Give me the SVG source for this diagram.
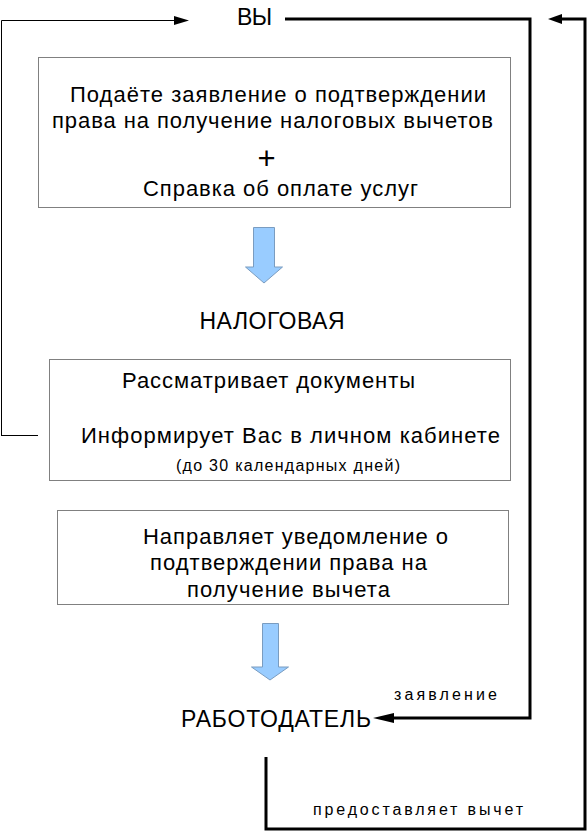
<svg xmlns="http://www.w3.org/2000/svg" width="588" height="833" viewBox="0 0 588 833">
<style>
text{font-family:"Liberation Sans",Arial,sans-serif;fill:#000;text-anchor:middle}
.t{font-size:22px}
.h{font-size:23px}
.s{font-size:16px}
.box{fill:#fff;stroke:#808080;stroke-width:1}
.thin{fill:none;stroke:#000;stroke-width:1}
.thick{fill:none;stroke:#000;stroke-width:3}
.blk{fill:#99ccff;stroke:#7a9cc0;stroke-width:1}
</style>
<rect width="588" height="833" fill="#fff"/>
<g id="connectors">
<path class="thin" d="M38,435.5 H1" stroke="#999"/>
<path class="thin" d="M1.5,435 V20.5 H174" stroke="#222"/>
<polygon points="174,16 189,20.5 174,25" fill="#000"/>
<path class="thick" d="M285,19 H530 V718 H392"/>
<polygon points="394,713 373,718 394,723" fill="#000"/>
<path class="thick" d="M266,757 V829 H585 V19 H560"/>
<polygon points="562,14 548,19 562,24" fill="#000"/>
<text class="s" x="445.5" y="700" textLength="103" lengthAdjust="spacing">заявление</text>
<text class="s" x="418" y="815" textLength="210" lengthAdjust="spacing">предоставляет вычет</text>
</g>
<g id="you"><text class="h" x="254.5" y="25" textLength="35" lengthAdjust="spacing">ВЫ</text></g>
<g id="box1">
<rect class="box" x="38.5" y="57.5" width="472" height="150"/>
<text class="t" x="278" y="102" textLength="416" lengthAdjust="spacing">Подаёте заявление о подтверждении</text>
<text class="t" x="272.5" y="128" textLength="441" lengthAdjust="spacing">права на получение налоговых вычетов</text>
<text x="266.5" y="168.5" font-size="31">+</text>
<text class="t" x="280.5" y="196" textLength="275" lengthAdjust="spacing">Справка об оплате услуг</text>
</g>
<g id="arrow1"><polygon class="blk" points="253.5,227.5 274.5,227.5 274.5,267 282.5,267 264,283 245.5,267 253.5,267"/></g>
<g id="tax"><text class="h" x="272" y="329" textLength="145" lengthAdjust="spacing">НАЛОГОВАЯ</text></g>
<g id="box2">
<rect class="box" x="49.5" y="359.5" width="461" height="121" stroke="#aaa"/>
<text class="t" x="268.5" y="388" textLength="293" lengthAdjust="spacing">Рассматривает документы</text>
<text class="t" x="290.5" y="443" textLength="419" lengthAdjust="spacing">Информирует Вас в личном кабинете</text>
<text class="s" x="288" y="471" textLength="224" lengthAdjust="spacing">(до 30 календарных дней)</text>
</g>
<g id="box3">
<rect class="box" x="57.5" y="510.5" width="451" height="94"/>
<text class="t" x="295.5" y="544" textLength="305" lengthAdjust="spacing">Направляет уведомление о</text>
<text class="t" x="288.5" y="570" textLength="277" lengthAdjust="spacing">подтверждении права на</text>
<text class="t" x="288.5" y="597" textLength="203" lengthAdjust="spacing">получение вычета</text>
</g>
<g id="arrow2"><polygon class="blk" points="262.5,623.5 278.5,623.5 278.5,667 288.5,667 270,680 251.5,667 262.5,667"/></g>
<g id="employer"><text class="h" x="276" y="727" textLength="190" lengthAdjust="spacing">РАБОТОДАТЕЛЬ</text></g>
</svg>
